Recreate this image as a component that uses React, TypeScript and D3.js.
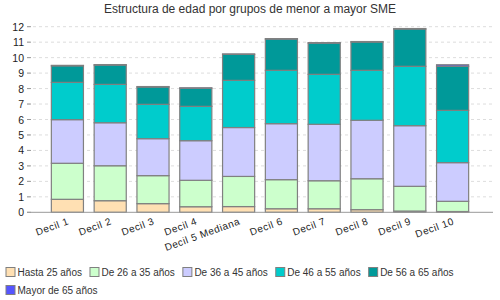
import React, { useMemo } from "react";
import * as d3 from "d3";

const categories = ["Decil 1", "Decil 2", "Decil 3", "Decil 4", "Decil 5 Mediana", "Decil 6", "Decil 7", "Decil 8", "Decil 9", "Decil 10"];
const seriesNames = ["Hasta 25 años", "De 26 a 35 años", "De 36 a 45 años", "De 46 a 55 años", "De 56 a 65 años", "Mayor de 65 años"];
const hasta25 = [0.84, 0.75, 0.56, 0.36, 0.37, 0.23, 0.23, 0.17, 0.08, 0.05];
const de26a35 = [2.33, 2.26, 1.81, 1.71, 1.95, 1.88, 1.81, 2.0, 1.6, 0.66];
const de36a45 = [2.82, 2.78, 2.39, 2.56, 3.16, 3.62, 3.65, 3.78, 3.92, 2.5];
const de46a55 = [2.41, 2.48, 2.22, 2.22, 3.05, 3.45, 3.23, 3.23, 3.84, 3.38];
const de56a65 = [1.07, 1.25, 1.12, 1.17, 1.68, 2.02, 2.02, 1.83, 2.41, 2.85];
const mayor65 = [0.03, 0.03, 0.03, 0.03, 0.03, 0.03, 0.03, 0.03, 0.03, 0.1];
const yTicks = [0, 1, 2, 3, 4, 5, 6, 7, 8, 9, 10, 11, 12];
const colors = ["#FFE0B3", "#CCFFCC", "#CCCCFF", "#00CCCC", "#009999", "#5555FF"];

const FONT = "'Liberation Sans', Arial, sans-serif";

function measure(text: string, size: number) {
  const c = document.createElement("canvas").getContext("2d")!;
  c.font = `${size}px 'Liberation Sans'`;
  return c.measureText(text).width;
}

export default function App() {
  const W = 500, H = 300;
  const series = [hasta25, de26a35, de36a45, de46a55, de56a65, mayor65];
  const rows = categories.map((c, i) => {
    const r: any = { cat: c };
    seriesNames.forEach((s, j) => (r[s] = series[j][i]));
    return r;
  });
  const stacked = d3.stack<any>().keys(seriesNames)(rows);
  const x = d3.scaleBand<string>().domain(categories).range([46, 474]).paddingInner(0.25).paddingOuter(0.125);
  const y = d3.scaleLinear().domain([0, 12]).range([212.3, 26.7]);

  const legendPos = useMemo(() => {
    const out: { x: number; y: number }[] = [];
    let cx = 5.5, cy = 267;
    seriesNames.forEach((s) => {
      const w = 12 + measure(s, 10);
      if (cx + w > 495) { cx = 5.5; cy += 18; }
      out.push({ x: cx, y: cy });
      cx += w + 7.5;
    });
    return out;
  }, []);

  return (
    <svg width={W} height={H} style={{ position: "absolute", left: 0, top: 0, fontFamily: FONT }}>
      <rect width={W} height={H} fill="#fff" />
      <text x={250} y={13} textAnchor="middle" fontSize={12} fill="#333">Estructura de edad por grupos de menor a mayor SME</text>
      {yTicks.map((t) => (
        <g key={t}>
          {t > 0 && <line x1={27} x2={493} y1={y(t)} y2={y(t)} stroke="#dddddd" strokeDasharray="3,3" />}
          <line x1={27} x2={31} y1={y(t)} y2={y(t)} stroke="#999" />
          <text x={24} y={y(t) + 4} textAnchor="end" fontSize={10.5} fill="#222">{t}</text>
        </g>
      ))}
      {stacked.map((layer, j) => (
        <g key={j}>
          {layer.map((d, i) => (
            <rect key={i} x={x(categories[i])!} width={x.bandwidth()} y={y(d[1])} height={y(d[0]) - y(d[1])}
              fill={colors[j]} stroke="#808080" strokeWidth={1.2} />
          ))}
        </g>
      ))}
      <line x1={27} x2={493} y1={y(0)} y2={y(0)} stroke="#999" />
      {categories.map((c) => {
        const cx = x(c)! + x.bandwidth() / 2 + 2;
        const cy = 224;
        return (
          <text key={c} x={cx} y={cy} textAnchor="end" fontSize={10} fill="#222" letterSpacing={0.5}
            transform={`rotate(-20 ${cx} ${cy})`}>{c}</text>
        );
      })}
      {seriesNames.map((s, i) => (
        <g key={s}>
          <rect x={legendPos[i].x + 0.5} y={legendPos[i].y + 0.5} width={9} height={9} fill={colors[i]} stroke="#808080" />
          <text x={legendPos[i].x + 12} y={legendPos[i].y + 8.5} fontSize={10} fill="#333">{s}</text>
        </g>
      ))}
    </svg>
  );
}
